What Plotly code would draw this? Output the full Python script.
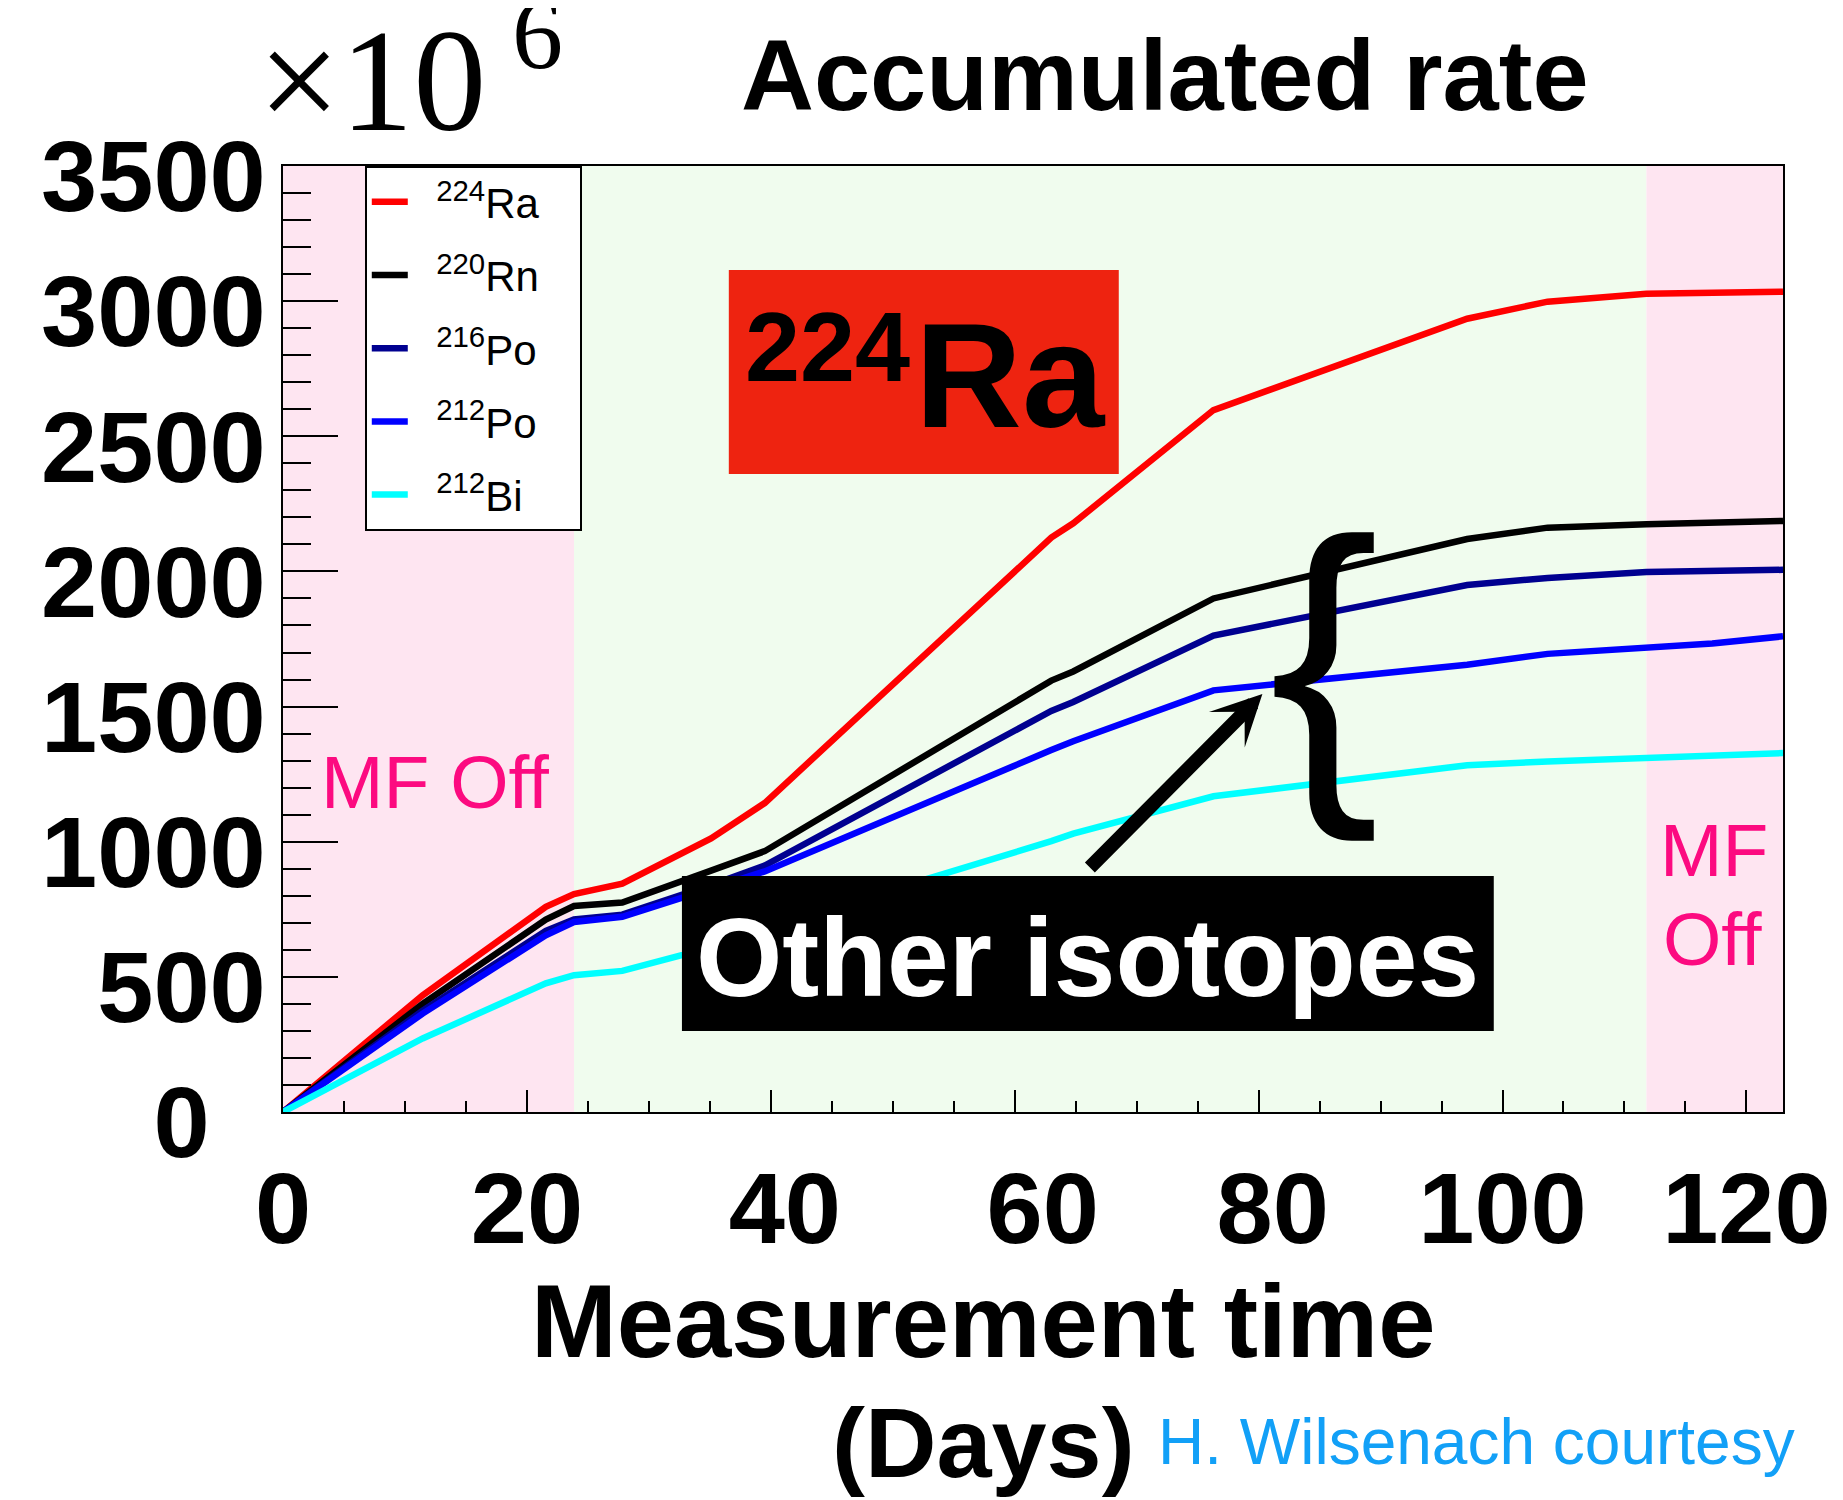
import plotly.graph_objects as go

# ---------------- data ----------------
days = [0, 11.45, 21.55, 23.86, 27.82, 32.7, 35.1, 39.5, 63.0, 64.8, 76.3, 97.1, 103.7, 111.8, 117.2, 123.0]
ra224 = [0, 432, 759, 806, 845, 955, 1012, 1143, 2125, 2178, 2597, 2935, 2998, 3027, 3030, 3035]
rn220 = [0, 400, 712, 762, 775, 851, 893, 965, 1596, 1630, 1900, 2120, 2162, 2175, 2180, 2187]
po216 = [0, 375, 670, 712, 730, 800, 840, 912, 1484, 1517, 1763, 1950, 1976, 1998, 2003, 2006]
po212 = [0, 364, 654, 703, 722, 790, 825, 890, 1339, 1372, 1560, 1655, 1695, 1719, 1733, 1760]
bi212 = [0, 272, 476, 506, 522, 580, 615, 680, 1002, 1030, 1168, 1283, 1297, 1310, 1317, 1328]

series_names = ["<sup>224</sup>Ra", "<sup>220</sup>Rn", "<sup>216</sup>Po", "<sup>212</sup>Po", "<sup>212</sup>Bi"]
series_vals = [ra224, rn220, po216, po212, bi212]
series_colors = ["#ff0000", "#000000", "#000090", "#0000ff", "#00ffff"]

mf_off_end = 23.86      # magnetic field switched on
mf_on_end = 111.8       # magnetic field switched off again
x_max = 123.0
y_max = 3500

x_ticks = [0, 20, 40, 60, 80, 100, 120]
x_ticklabels = ["0", "20", " 40", "  60", " 80", "100", "120"]
y_ticks = [0, 500, 1000, 1500, 2000, 2500, 3000, 3500]
y_ticklabels = ["0  ", "500", "1000", "1500", "2000", "2500", "3000", "3500"]

# ---------------- layout helpers ----------------
OFF = 8                      # page body margin of the browser
W, H = 1843 - OFF, 1500 - OFF
PL, PR, PT, PB = 283, 1787, 166, 1112   # plot area in window pixels
L, T = PL - OFF, PT - OFF
R, B = W - (PR - OFF), H - (PB - OFF)
PW, PH = PR - PL, PB - PT


def px(X):
    return (X - PL) / PW


def py(Y):
    return (PB - Y) / PH


SANS = "Liberation Sans, Arial, Helvetica, sans-serif"
SERIF = "Liberation Serif, Times New Roman, serif"

fig = go.Figure()
for i, (name, vals, col) in enumerate(zip(series_names, series_vals, series_colors)):
    fig.add_trace(go.Scatter(
        x=days, y=vals, mode="lines", name="  " + name + "   ",
        line=dict(color=col, width=6.5),
        legendgroup=f"g{i}",
    ))

shapes = [
    dict(type="rect", xref="x", yref="paper", x0=0, x1=mf_off_end, y0=0, y1=1,
         fillcolor="#fee5f1", line=dict(width=0), layer="below"),
    dict(type="rect", xref="x", yref="paper", x0=mf_off_end, x1=mf_on_end, y0=0, y1=1,
         fillcolor="#f0fcee", line=dict(width=0), layer="below"),
    dict(type="rect", xref="x", yref="paper", x0=mf_on_end, x1=x_max, y0=0, y1=1,
         fillcolor="#fee5f1", line=dict(width=0), layer="below"),
    # 224Ra label box
    dict(type="rect", xref="paper", yref="paper", x0=px(730), x1=px(1121), y0=py(474), y1=py(270),
         fillcolor="#ee2310", line=dict(width=0), layer="above"),
    # Other isotopes box
    dict(type="rect", xref="paper", yref="paper", x0=px(683), x1=px(1497), y0=py(1031), y1=py(876),
         fillcolor="#000000", line=dict(width=0), layer="above"),
]

MAG = "#fc0a80"


def note(text, X, Y, size, color="black", family=SANS, weight="normal", xanchor="center", yanchor="middle"):
    return dict(text=text, x=px(X), y=py(Y), xref="paper", yref="paper",
                xanchor=xanchor, yanchor=yanchor, showarrow=False,
                font=dict(family=family, size=size, color=color, weight=weight))


annotations = [
    note("Accumulated rate", 1167, 74.5, 101, weight="bold"),
    note("×10<sup> 6</sup>", 256, 164, 146, family=SERIF, xanchor="left", yanchor="bottom"),
    note("Measurement time", 985, 1321, 103, weight="bold"),
    note("(Days)", 985, 1442, 99, weight="bold"),
    note("H. Wilsenach courtesy", 1158, 1442, 64, color="#12a0f7", xanchor="left"),
    note("MF Off", 319, 782, 75, color=MAG, xanchor="left"),
    note("MF", 1718, 850, 75, color=MAG),
    note("Off", 1716, 939, 75, color=MAG),
    note("224", 744, 346.5, 99, weight="bold", xanchor="left"),
    note("Ra", 1012, 375.5, 148, weight="bold"),
    note("Other isotopes", 1090, 958, 111, color="white", weight="bold"),
    note("{", 1327, 658, 331),
    dict(text="", x=px(1265), y=py(694), xref="paper", yref="paper",
         ax=-174, ay=175, showarrow=True, arrowhead=3, arrowsize=0.6,
         arrowwidth=14, arrowcolor="black"),
]

tickfont = dict(family=SANS, size=101, color="black", weight="bold")

fig.update_layout(
    width=W, height=H,
    margin=dict(l=L, r=R, t=T, b=B, pad=0),
    paper_bgcolor="white", plot_bgcolor="white",
    shapes=shapes, annotations=annotations,
    showlegend=True,
    legend=dict(
        x=px(365), y=1, xanchor="left", yanchor="top",
        bgcolor="white", bordercolor="black", borderwidth=2,
        font=dict(family=SANS, size=42, color="black"),
        tracegroupgap=15.6, itemwidth=36,
    ),
    xaxis=dict(
        range=[0, x_max], tickmode="array", tickvals=x_ticks, ticktext=x_ticklabels,
        ticks="inside", ticklen=22, tickwidth=2, tickcolor="black",
        minor=dict(ticks="inside", ticklen=11, dtick=5, tick0=0, tickwidth=2, tickcolor="black", showgrid=False),
        showline=True, linecolor="black", linewidth=2, mirror=True,
        showgrid=False, zeroline=False, tickfont=tickfont, ticklabelstandoff=8,
    ),
    yaxis=dict(
        range=[0, y_max], tickmode="array", tickvals=y_ticks, ticktext=y_ticklabels,
        ticks="inside", ticklen=55, tickwidth=2, tickcolor="black",
        minor=dict(ticks="inside", ticklen=28, dtick=100, tick0=0, tickwidth=2, tickcolor="black", showgrid=False),
        showline=True, linecolor="black", linewidth=2, mirror=True,
        showgrid=False, zeroline=False, tickfont=tickfont, ticklabelstandoff=-5, ticklabelshift=10,
    ),
)

fig.write_html("out.html")
